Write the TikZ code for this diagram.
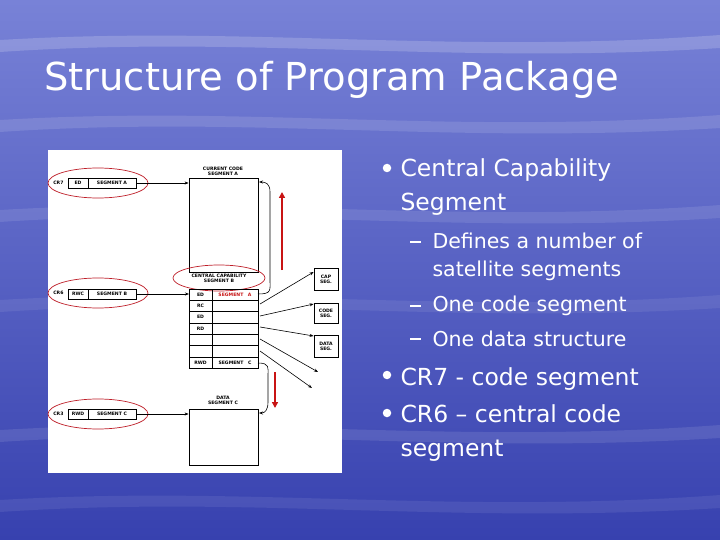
\documentclass[tikz,border=0pt]{standalone}
\usepackage{fontspec}
\setmainfont{DejaVu Sans}
\usetikzlibrary{arrows.meta}
\definecolor{bgtop}{RGB}{120,130,215}
\definecolor{bgbot}{RGB}{55,65,175}
\definecolor{ovalred}{RGB}{190,30,40}
\definecolor{arrred}{RGB}{200,20,20}
\tikzset{
  box/.style={draw=black,line width=0.8pt,inner sep=0pt},
  tiny/.style={font=\fontsize{4.6}{5.2}\selectfont\bfseries,text=black},
  oval/.style={draw=ovalred,line width=0.7pt},
  ln/.style={black,line width=0.6pt,-{Stealth[length=4pt,width=3pt]}},
  red/.style={arrred,line width=2.2pt,-{Triangle[length=6pt,width=6pt]}},
  bul/.style={font=\fontsize{23.5}{34}\selectfont,text=white,anchor=west,align=left},
  sub/.style={font=\fontsize{20.5}{28}\selectfont,text=white,anchor=west,align=left},
  dot/.style={circle,fill=white,inner sep=0pt,minimum size=8.5pt},
  dashbar/.style={fill=white,inner sep=0pt,minimum width=11pt,minimum height=1.6pt},
}
\begin{document}
\begin{tikzpicture}[x=1pt,y=-1pt]
\shade[top color=bgtop,bottom color=bgbot] (0,0) rectangle (720,540);
\useasboundingbox (0,0) rectangle (720,540);
% soft streaks
\foreach \yy/\o in {40/0.18,120/0.12,210/0.1,300/0.08,430/0.1,500/0.08}{
  \fill[white,opacity=\o] (0,\yy) .. controls (250,\yy-15) and (450,\yy+15) .. (720,\yy-5)
     -- (720,\yy+8) .. controls (450,\yy+25) and (250,\yy-5) .. (0,\yy+12) -- cycle;}
% title
\node[anchor=west,font=\fontsize{38.5}{44}\selectfont,text=white,inner sep=0pt] (title) at (44,80) {Structure of Program Package};
% panel
\fill[white] (48,150) rectangle (342,473);
% CR7
\node[tiny,anchor=east] (cr7l) at (67,183) {CR7};
\draw[box] (68,178) rectangle (136,188);
\draw[black,line width=0.6pt] (88,178) -- (88,188);
\node[tiny] (cr7a) at (78,183) {ED};
\node[tiny] (cr7b) at (112,183) {SEGMENT A};
\draw[oval] (98,183) ellipse (50 and 15);
\coordinate (cr7) at (136,183);
% CR6
\node[tiny,anchor=east] (cr6l) at (67,293) {CR6};
\draw[box] (68,289) rectangle (136,299);
\draw[black,line width=0.6pt] (88,289) -- (88,299);
\node[tiny] (cr6a) at (78,294) {RWC};
\node[tiny] (cr6b) at (112,294) {SEGMENT B};
\draw[oval] (98,293) ellipse (50 and 15);
\coordinate (cr6) at (136,294);
% CR3
\node[tiny,anchor=east] (cr3l) at (67,414) {CR3};
\draw[box] (68,409) rectangle (136,419);
\draw[black,line width=0.6pt] (88,409) -- (88,419);
\node[tiny] (cr3a) at (78,414) {RWD};
\node[tiny] (cr3b) at (112,414) {SEGMENT C};
\draw[oval] (98,414) ellipse (50 and 15);
\coordinate (cr3) at (136,414);
% segment A
\node[tiny,align=center] (la) at (223,171) {CURRENT CODE\\SEGMENT A};
\node[box,minimum width=69pt,minimum height=94pt] (sa) at (223.5,225) {};
% central capability
\node[tiny,align=center] (lb) at (219,278) {CENTRAL CAPABILITY\\SEGMENT B};
\draw[oval] (219,278) ellipse (46 and 13);
\draw[box] (189,289) rectangle (258,368);
\foreach \i in {1,...,6}{\draw[black,line width=0.6pt] (189,289+\i*11.3) -- (258,289+\i*11.3);}
\draw[black,line width=0.6pt] (212,289) -- (212,368);
\node[tiny] (r1a) at (200.5,294.6) {ED};
\node[tiny,text=arrred] (r1b) at (235,294.6) {SEGMENT\quad A};
\node[tiny] (r2a) at (200.5,305.9) {RC};
\node[tiny] (r3a) at (200.5,317.2) {ED};
\node[tiny] (r4a) at (200.5,328.5) {RD};
\node[tiny] (r7a) at (200.5,362.4) {RWD};
\node[tiny] (r7b) at (235,362.4) {SEGMENT\quad C};
% data segment C
\node[tiny,align=center] (lc) at (223,400) {DATA\\SEGMENT C};
\node[box,minimum width=69pt,minimum height=56pt] (sc) at (223.5,437) {};
% side boxes
\node[box,tiny,minimum width=24pt,minimum height=22pt,align=center] (cap) at (326,279) {CAP\\SEG.};
\node[box,tiny,minimum width=24pt,minimum height=20pt,align=center] (code) at (326,313) {CODE\\SEG.};
\node[box,tiny,minimum width=24pt,minimum height=22pt,align=center] (data) at (326,346) {DATA\\SEG.};
\coordinate (e1) at (318,372);
\coordinate (e2) at (312,388);
% connectors
\draw[ln] (cr7) -- (sa.west |- cr7);
\draw[ln] (cr6) -- (189,294);
\draw[ln] (cr3) -- (sc.west |- cr3);
\draw[ln] (258,294) .. controls (272,294) and (270,290) .. (270,280) -- (270,192) .. controls (270,184) and (266,182) .. (259,182);
\draw[ln] (258,363) .. controls (270,363) and (268,368) .. (268,375) -- (268,402) .. controls (268,410) and (265,413) .. (259,413);
\draw[ln] (260,304) -- (cap.west |- 0,272);
\draw[ln] (260,316) -- (code.west |- 0,304);
\draw[ln] (260,327) -- (data.west |- 0,336);
\draw[ln] (260,339) -- (e1);
\draw[ln] (260,351) -- (e2);
% red arrows
\draw[red] (282,270) -- (282,192);
\draw[red] (275,372) -- (275,408);
% bullets
\node[dot] (b1) at (387,168) {};
\node[bul,anchor=north west] (t1) at (397,155) {Central Capability\\Segment};
\node[dashbar] (s1d) at (415,242) {};
\node[sub,anchor=north west] (s1) at (429,229) {Defines a number of\\satellite segments};
\node[dashbar] (s2d) at (415,306) {};
\node[sub] (s2) at (429,306) {One code segment};
\node[dashbar] (s3d) at (415,339) {};
\node[sub] (s3) at (429,339) {One data structure};
\node[dot] (b2) at (387,375) {};
\node[bul] (t2) at (397,379) {CR7 - code segment};
\node[dot] (b3) at (387,413) {};
\node[bul,anchor=north west] (t3) at (397,401) {CR6 – central code\\segment};
\end{tikzpicture}
\end{document}
